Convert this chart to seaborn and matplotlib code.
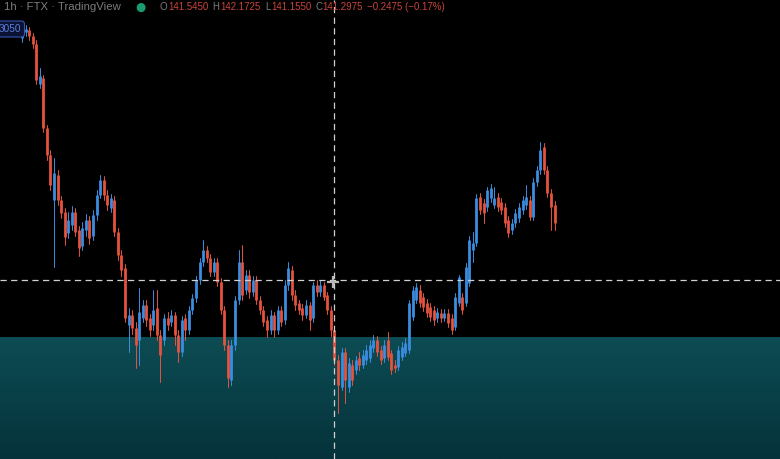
import numpy as np
import pandas as pd
import matplotlib
matplotlib.use("Agg")
import matplotlib.pyplot as plt
import seaborn as sns

# ---------------------------------------------------------------
# 1h candles
# ---------------------------------------------------------------
OPENS = [166.2, 166.8, 167.0, 166.4, 165.6, 161.6, 162.2, 157.2, 154.5, 150.0,
         152.5, 150.0, 148.8, 146.7, 147.5, 148.8, 147.0, 145.4, 147.0, 148.0,
         146.4, 148.5, 150.5, 152.0, 150.5, 149.2, 150.0, 146.8, 144.5, 143.2,
         137.5, 138.5, 137.2, 136.0, 138.2, 139.5, 138.2, 137.5, 139.2, 136.5,
         136.0, 138.2, 137.8, 138.5, 136.5, 134.8, 138.2, 137.0, 139.0, 140.2,
         142.0, 143.8, 145.0, 144.2, 142.8, 143.8, 141.8, 139.0, 135.5, 132.0,
         135.5, 140.0, 143.8, 141.0, 142.5, 140.8, 142.0, 140.0, 139.0, 138.0,
         137.0, 138.5, 137.0, 139.0, 138.0, 141.5, 143.0, 140.5, 139.7, 139.2,
         138.5, 139.5, 138.2, 141.5, 140.8, 141.5, 140.5, 139.0, 137.0, 134.0,
         131.3, 134.8, 131.3, 133.5, 133.0, 134.2, 133.5, 134.0, 134.2, 135.2,
         136.0, 135.0, 134.2, 136.0, 134.7, 133.5, 133.3, 134.3, 134.7, 135.0,
         138.3, 140.0, 141.0, 140.3, 139.7, 139.3, 139.0, 138.2, 138.7, 138.2,
         138.7, 138.2, 137.3, 139.7, 140.3, 139.7, 141.7, 145.0, 145.7, 150.3,
         149.7, 149.3, 150.2, 149.5, 150.3, 149.8, 149.3, 148.0, 147.0, 147.7,
         148.2, 149.0, 149.5, 150.0, 148.3, 151.8, 153.0, 155.3, 153.0, 150.7,
         149.5]
HIGHS = [167.2, 167.5, 167.3, 166.7, 166.0, 163.2, 162.5, 157.5, 155.0, 154.2,
         153.0, 150.4, 149.2, 148.8, 149.4, 149.2, 147.4, 147.8, 148.6, 148.4,
         149.0, 151.0, 152.5, 152.4, 151.0, 150.6, 150.4, 147.2, 145.0, 143.6,
         139.2, 139.0, 137.8, 141.2, 140.0, 140.0, 138.6, 141.0, 141.0, 137.0,
         138.6, 138.8, 139.0, 138.8, 137.0, 138.4, 138.6, 139.4, 140.6, 142.4,
         144.2, 146.0, 145.4, 144.6, 144.2, 144.2, 142.2, 139.4, 136.0, 136.0,
         140.4, 145.0, 145.5, 143.0, 143.0, 142.4, 142.4, 140.4, 139.4, 138.4,
         139.0, 138.8, 139.4, 139.4, 142.0, 143.8, 143.4, 141.0, 140.0, 139.6,
         140.0, 139.8, 141.8, 142.0, 142.0, 141.8, 140.8, 139.4, 137.4, 134.5,
         135.2, 135.2, 134.2, 134.0, 134.4, 134.8, 135.0, 135.5, 136.0, 136.5,
         136.4, 135.4, 136.0, 136.8, 135.0, 134.0, 135.4, 135.8, 136.2, 140.0,
         141.4, 141.7, 141.5, 140.7, 140.1, 139.7, 139.4, 139.2, 139.1, 139.1,
         139.1, 138.6, 140.7, 142.5, 140.7, 143.7, 146.4, 146.8, 150.6, 150.7,
         150.1, 151.3, 151.6, 151.3, 150.7, 150.2, 149.7, 148.4, 148.1, 149.1,
         149.7, 150.4, 151.5, 150.4, 152.2, 153.4, 155.8, 155.7, 153.4, 151.1,
         149.9]
LOWS = [165.8, 166.4, 166.0, 165.2, 161.6, 161.2, 156.8, 154.0, 151.0, 143.3,
        149.5, 148.2, 145.5, 146.2, 147.0, 146.4, 144.4, 145.0, 146.4, 145.6,
        146.0, 148.0, 150.2, 150.0, 149.0, 148.8, 146.4, 144.0, 142.4, 137.8,
        134.8, 136.6, 133.2, 133.5, 137.8, 137.4, 136.4, 137.0, 136.0, 131.8,
        135.5, 137.0, 137.4, 135.5, 133.8, 134.4, 136.0, 136.6, 138.6, 139.8,
        141.6, 143.4, 143.8, 142.4, 142.4, 141.4, 138.6, 135.0, 131.3, 131.5,
        135.0, 139.6, 140.0, 140.6, 140.2, 140.4, 139.6, 138.6, 137.4, 136.3,
        136.6, 136.3, 136.6, 137.4, 137.6, 141.0, 140.0, 139.0, 138.6, 138.0,
        138.2, 137.0, 137.8, 140.4, 140.4, 140.0, 138.6, 136.4, 133.5, 128.7,
        131.0, 129.7, 130.8, 131.5, 132.6, 133.0, 133.2, 133.6, 133.8, 134.8,
        134.4, 133.6, 133.8, 134.0, 132.6, 132.8, 133.0, 134.0, 134.4, 134.7,
        138.0, 139.7, 139.3, 138.9, 138.3, 137.9, 137.5, 137.8, 137.8, 137.9,
        137.3, 136.6, 137.0, 139.4, 138.6, 139.4, 141.4, 143.8, 145.4, 148.6,
        147.7, 148.9, 149.8, 149.2, 148.9, 148.6, 147.3, 146.3, 146.6, 147.3,
        147.8, 148.6, 149.1, 148.0, 148.0, 151.4, 152.6, 152.6, 150.3, 147.0,
        147.0]
CLOSES = [166.8, 167.1, 166.4, 165.6, 162.0, 162.4, 157.2, 154.5, 151.5, 152.7,
          150.0, 148.7, 146.3, 148.0, 148.8, 146.8, 145.2, 147.2, 148.0, 146.2,
          148.5, 150.5, 152.0, 150.5, 149.5, 150.2, 146.8, 144.5, 143.0, 138.2,
          138.5, 137.2, 135.5, 138.8, 139.5, 138.0, 137.0, 139.0, 136.5, 134.5,
          138.2, 137.5, 138.5, 136.5, 134.8, 138.0, 137.0, 139.0, 140.2, 142.0,
          143.8, 145.0, 144.2, 142.8, 143.8, 141.8, 139.0, 135.5, 132.2, 135.5,
          140.0, 143.8, 140.5, 142.5, 140.8, 142.0, 140.0, 139.0, 137.8, 137.0,
          138.5, 137.0, 139.0, 137.8, 141.5, 143.2, 140.5, 139.5, 139.0, 138.5,
          139.5, 138.0, 141.5, 140.8, 141.5, 140.3, 139.0, 137.0, 134.0, 131.5,
          134.8, 132.0, 133.7, 132.0, 134.0, 133.5, 134.5, 135.0, 135.5, 136.0,
          134.8, 134.0, 135.5, 134.3, 133.0, 133.2, 135.0, 135.3, 135.7, 139.7,
          141.0, 141.3, 139.7, 139.3, 138.7, 138.3, 138.0, 138.8, 138.2, 138.7,
          137.7, 137.0, 140.3, 142.3, 139.0, 143.3, 146.0, 145.7, 150.2, 149.0,
          148.7, 151.0, 151.2, 150.2, 149.3, 149.0, 147.7, 146.7, 147.7, 148.7,
          149.3, 150.0, 150.3, 148.3, 151.8, 153.0, 155.0, 153.0, 150.7, 149.3,
          147.7]

ZONE_TOP = 136.3        # top of the teal zone
CROSS_BAR = 88          # candle under the crosshair
CROSS_PRICE = 142.0

HEADER = "1h · FTX · TradingView"
OHLC_LABELS = ["O", "H", "L", "C"]
OHLC_VALUES = ["141.5450", "142.1725", "141.1550", "141.2975"]
CHANGE = "−0.2475 (−0.17%)"
PRICE_TAG = "3050"

UP = "#3b8de0"
DOWN = "#e5533e"

# ---------------------------------------------------------------
# long-form frames for seaborn
# ---------------------------------------------------------------
n = len(CLOSES)
idx = np.arange(n)
direction = np.where(np.array(CLOSES) >= np.array(OPENS), "up", "down")

wicks = pd.DataFrame({
    "bar": np.repeat(idx, 2),
    "price": np.column_stack([HIGHS, LOWS]).ravel(),
    "dir": np.repeat(direction, 2),
})
bodies = pd.DataFrame({
    "bar": np.repeat(idx, 2),
    "price": np.column_stack([OPENS, CLOSES]).ravel(),
    "dir": np.repeat(direction, 2),
})

sns.set_theme(style="dark")
plt.rcParams["font.family"] = ["Liberation Sans", "DejaVu Sans"]

fig = plt.figure(figsize=(7.8, 4.59), dpi=100, facecolor="black")
ax = fig.add_axes([0, 0, 1, 1])
ax.set_facecolor("black")

x0, x1 = -22 / 3.55, (780 - 22) / 3.55
y0, y1 = 124.1, 170.0

# teal zone with a soft vertical gradient
top_c = np.array([13, 76, 84]) / 255
bot_c = np.array([5, 50, 58]) / 255
t = np.linspace(0, 1, 64)[:, None, None]
grad = top_c * (1 - t) + bot_c * t
ax.imshow(grad, extent=[x0, x1, y0, ZONE_TOP], aspect="auto",
          origin="upper", zorder=0, interpolation="bilinear")

pal = {"up": UP, "down": DOWN}
sns.lineplot(data=wicks, x="bar", y="price", hue="dir", units="bar",
             estimator=None, palette=pal, linewidth=0.7, legend=False,
             sort=False, ax=ax, zorder=2)
sns.lineplot(data=bodies, x="bar", y="price", hue="dir", units="bar",
             estimator=None, palette=pal, linewidth=2.0, legend=False,
             sort=False, ax=ax, zorder=3, solid_capstyle="butt")

# crosshair
ax.axvline(CROSS_BAR, color="#d0d0d0", lw=0.9, ls=(0, (5, 3.5)), zorder=4)
ax.axhline(CROSS_PRICE, color="#d0d0d0", lw=0.9, ls=(0, (5, 3.5)), zorder=4)
ax.plot([CROSS_BAR - 0.3], [CROSS_PRICE - 0.2], marker="+", ms=9, mew=1.6,
        color="#b8b8b8", zorder=5)

ax.set_xlim(x0, x1)
ax.set_ylim(y0, y1)
ax.set_axis_off()

# header line
W, H = 780, 459
ty = 1 - 7 / H
fig.text(4 / W, ty, HEADER, color="#7c7c7c", fontsize=8.2, va="center")
fig.text(140 / W, ty, "●", color="#1a9c6c", fontsize=8.5, va="center",
         ha="center", family="DejaVu Sans")
label_x = [160, 212, 265, 315]
value_x = [168, 220, 271, 322]
for lab, val, lx, vx in zip(OHLC_LABELS, OHLC_VALUES, label_x, value_x):
    fig.text(lx / W, ty, lab, color="#7c7c7c", fontsize=7.0, va="center")
    fig.text(vx / W, ty, val, color="#c9443a", fontsize=7.0, va="center")
fig.text(367 / W, ty, CHANGE, color="#c9443a", fontsize=7.0, va="center")

# price tag on the left edge
fig.text(-1 / W, 1 - 29 / H, PRICE_TAG, color="#5d7fd8", fontsize=7.2,
         va="center", ha="left",
         bbox=dict(boxstyle="round,pad=0.3", fc="#0b1233", ec="#3656b0", lw=0.8))

fig.savefig("out.png", dpi=100, facecolor="black")
